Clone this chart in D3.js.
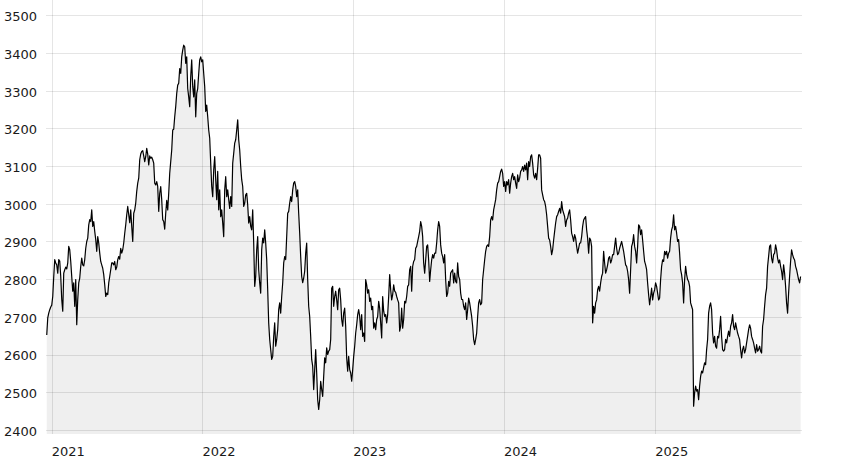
<!DOCTYPE html>
<html><head><meta charset="utf-8">
<script src="https://cdn.jsdelivr.net/npm/d3@7"></script>
<style>html,body{margin:0;padding:0;background:#fff;} svg{display:block;font-family:"DejaVu Sans",sans-serif;}</style>
</head><body><svg id="chart" width="848" height="460"></svg>
<script>
// ---- data ----
const firstDate = "2020-12-20";
const lastDate = "2025-12-19";
const yearTicks = [2021, 2022, 2023, 2024, 2025];
const valueTicks = [2400, 2500, 2600, 2700, 2800, 2900, 3000, 3100, 3200, 3300, 3400, 3500];
const closes = [
2652,2697,2710,2719,2726,2731,2754,2807,2852,2843,2838,2816,2852,2848,2807,2746,2715,2816,2825,2832,
2827,2843,2887,2878,2847,2807,2768,2790,2728,2799,2679,2746,2790,2803,2834,2856,2838,2835,2852,2882,
2900,2909,2944,2958,2953,2984,2940,2953,2927,2905,2874,2913,2896,2869,2847,2838,2829,2812,2785,2754,
2763,2759,2790,2807,2825,2843,2843,2838,2847,2825,2832,2852,2860,2853,2882,2869,2878,2896,2922,2944,
2971,2993,2971,2950,2984,2940,2900,2975,2984,3002,3033,3055,3068,3117,3132,3139,3141,3127,3112,3125,
3147,3132,3103,3127,3121,3124,3117,3108,3055,3050,3059,3046,2980,3028,3046,3011,2958,2953,2933,2975,
3009,2984,3028,3081,3112,3143,3196,
3198,3231,3258,3293,3315,3320,3359,3346,3390,3408,3421,3417,3373,3390,3306,3284,3258,3337,3382,3311,
3284,3329,3231,3293,3306,3346,3382,3390,3377,3382,3346,3311,3245,3262,3231,3196,3174,3108,3046,3019,
3090,3125,3064,3011,3086,2984,3037,2966,2984,2949,2913,3037,3072,3019,3037,3011,2988,3019,2993,3108,
3134,3161,3170,3196,3223,3170,3143,3099,3064,3046,2993,3002,3024,3028,2997,2949,2966,2940,2931,2984,
2896,2781,2807,2878,2913,2825,2790,2763,2878,2909,2896,2931,2896,2852,2772,2684,2640,2613,2587,2595,
2648,2684,2622,2640,2666,2719,2737,2710,2754,2790,2843,2860,2852,2913,2975,2980,3002,3019,3006,3037,
3055,3059,3046,3019,3037,2975,
2922,2860,2807,2791,2803,2821,2869,2896,2799,2728,2701,2648,2587,2569,2507,2560,2613,2551,2480,2454,
2480,2529,2507,2489,2542,2591,2578,2618,2600,2609,2613,2640,2776,2781,2728,2754,2768,2745,2719,2772,
2776,2745,2693,2675,2710,2723,2675,2591,2556,2595,2560,2551,2529,2560,2595,2622,2657,2679,2706,2719,
2701,2666,2706,2648,2657,2635,2799,2785,2763,2772,2741,2750,2719,2728,2670,2684,2666,2693,2701,2741,
2723,2684,2644,2754,2715,2701,2706,2684,2706,2754,2812,2772,2745,2759,2785,2768,2765,2754,2745,2737,
2662,2675,2723,2670,2693,2741,2737,2754,2781,2785,2825,2834,2768,2834,2847,2852,2882,2887,2900,2913,
2927,2953,2940,2913,2843,
2816,2851,2887,2891,2851,2794,2825,2851,2865,2856,2869,2869,2896,2931,2953,2940,2891,2869,2860,2843,
2865,2799,2754,2763,2794,2781,2816,2821,2825,2790,2816,2794,2790,2843,2807,2799,2763,2746,2746,2728,
2719,2737,2693,2719,2750,2737,2719,2701,2675,2640,2626,2640,2657,2701,2737,2746,2732,2737,2799,2825,
2851,2874,2887,2891,2887,2913,2957,2966,2957,2984,2997,3011,3037,3055,3059,3072,3086,3092,3081,3046,
3059,3033,3059,3050,3064,3028,3055,3072,3081,3064,3072,3055,3041,3077,3059,3068,3086,3090,3099,3086,
3103,3090,3108,3064,3112,3099,3125,3130,3108,3077,3068,3081,3064,3094,3130,3130,3121,3037,3024,3011,
3006,2993,2971,2940,2909,
2904,2887,2865,2878,2904,2927,2949,2966,2971,2980,2988,2975,3006,2984,2975,2966,2940,2957,2962,2975,
2984,2957,2922,2913,2900,2918,2909,2887,2869,2882,2896,2896,2913,2940,2957,2962,2966,2931,2909,2869,
2909,2904,2887,2684,2728,2710,2737,2745,2772,2781,2768,2790,2807,2816,2874,2843,2816,2825,2838,2856,
2860,2843,2851,2865,2865,2887,2909,2882,2865,2869,2882,2891,2900,2887,2874,2856,2838,2834,2821,2799,
2763,2825,2887,2896,2918,2887,2874,2843,2887,2944,2940,2918,2931,2904,2874,2847,2838,2825,2790,2759,
2732,2754,2776,2745,2763,2772,2790,2781,2763,2745,2750,2799,2834,2851,2847,2874,2865,2874,2856,2869,
2874,2909,2931,2940,2971,
2931,2940,2922,2900,2905,2869,2825,2812,2790,2737,2799,2834,2812,2799,2794,2781,2737,2728,2719,2463,
2498,2516,2503,2507,2480,2516,2542,2556,2551,2565,2578,2573,2613,2640,2710,2728,2737,2719,2657,2631,
2648,2622,2617,2648,2644,2666,2701,2648,2613,2609,2613,2640,2631,2648,2662,2648,2675,2684,2706,2675,
2666,2684,2670,2657,2648,2640,2613,2591,2613,2622,2604,2613,2631,2648,2666,2679,2670,2648,2640,2631,
2617,2604,2626,2609,2613,2622,2609,2604,2675,2693,2728,2759,2776,2834,2860,2887,2891,2856,2843,2865,
2869,2891,2878,2856,2843,2851,2834,2821,2799,2838,2816,2781,2737,2710,2763,2807,2847,2878,2865,2856,
2851,2834,2825,2812,2799,2790,2807
];

// ---- layout ----
const W = 848, H = 460;
const plotLeft = 46, plotRight = 802, plotTop = 0, plotBottom = 434;
const xStart = new Date(Date.UTC(2020, 11, 18, 5));
const xEnd = new Date(Date.UTC(2025, 11, 22, 10));

const parse = d3.utcParse("%Y-%m-%d");
const t0 = parse(firstDate), t1 = parse(lastDate);
const n = closes.length;
const data = closes.map((v, i) => ({ date: new Date(+t0 + (t1 - t0) * i / (n - 1)), value: v }));

const x = d3.scaleUtc().domain([xStart, xEnd]).range([plotLeft, plotRight]);
const y = d3.scaleLinear().domain([2389, 3541]).range([plotBottom, plotTop]);

const svg = d3.select("#chart");
svg.append("rect").attr("width", W).attr("height", H).attr("fill", "#fff");

const area = d3.area().x(d => x(d.date)).y0(plotBottom).y1(d => y(d.value));
svg.append("path").datum(data).attr("d", area).attr("fill", "#efefef");

const grid = svg.append("g").attr("stroke", "rgba(0,0,0,0.1)").attr("stroke-width", 1);
valueTicks.forEach(v => {
  const yy = Math.round(y(v)) + 0.5;
  grid.append("line").attr("x1", plotLeft).attr("x2", plotRight).attr("y1", yy).attr("y2", yy);
});
yearTicks.forEach(yr => {
  const xx = Math.round(x(new Date(Date.UTC(yr, 0, 1)))) + 0.5;
  grid.append("line").attr("x1", xx).attr("x2", xx).attr("y1", plotTop).attr("y2", plotBottom);
});

const line = d3.line().x(d => x(d.date)).y(d => y(d.value));
svg.append("path").datum(data).attr("d", line).attr("fill", "none")
  .attr("stroke", "#000").attr("stroke-width", 1.2).attr("stroke-linejoin", "round");

const labels = svg.append("g").attr("font-size", 13).attr("fill", "#1a1a1a");
valueTicks.forEach(v => {
  labels.append("text").attr("x", 4).attr("y", y(v) + 1.3)
    .attr("dominant-baseline", "central").text(v);
});
yearTicks.forEach(yr => {
  labels.append("text").attr("x", x(new Date(Date.UTC(yr, 0, 1))))
    .attr("y", 456).text(yr);
});
</script></body></html>
